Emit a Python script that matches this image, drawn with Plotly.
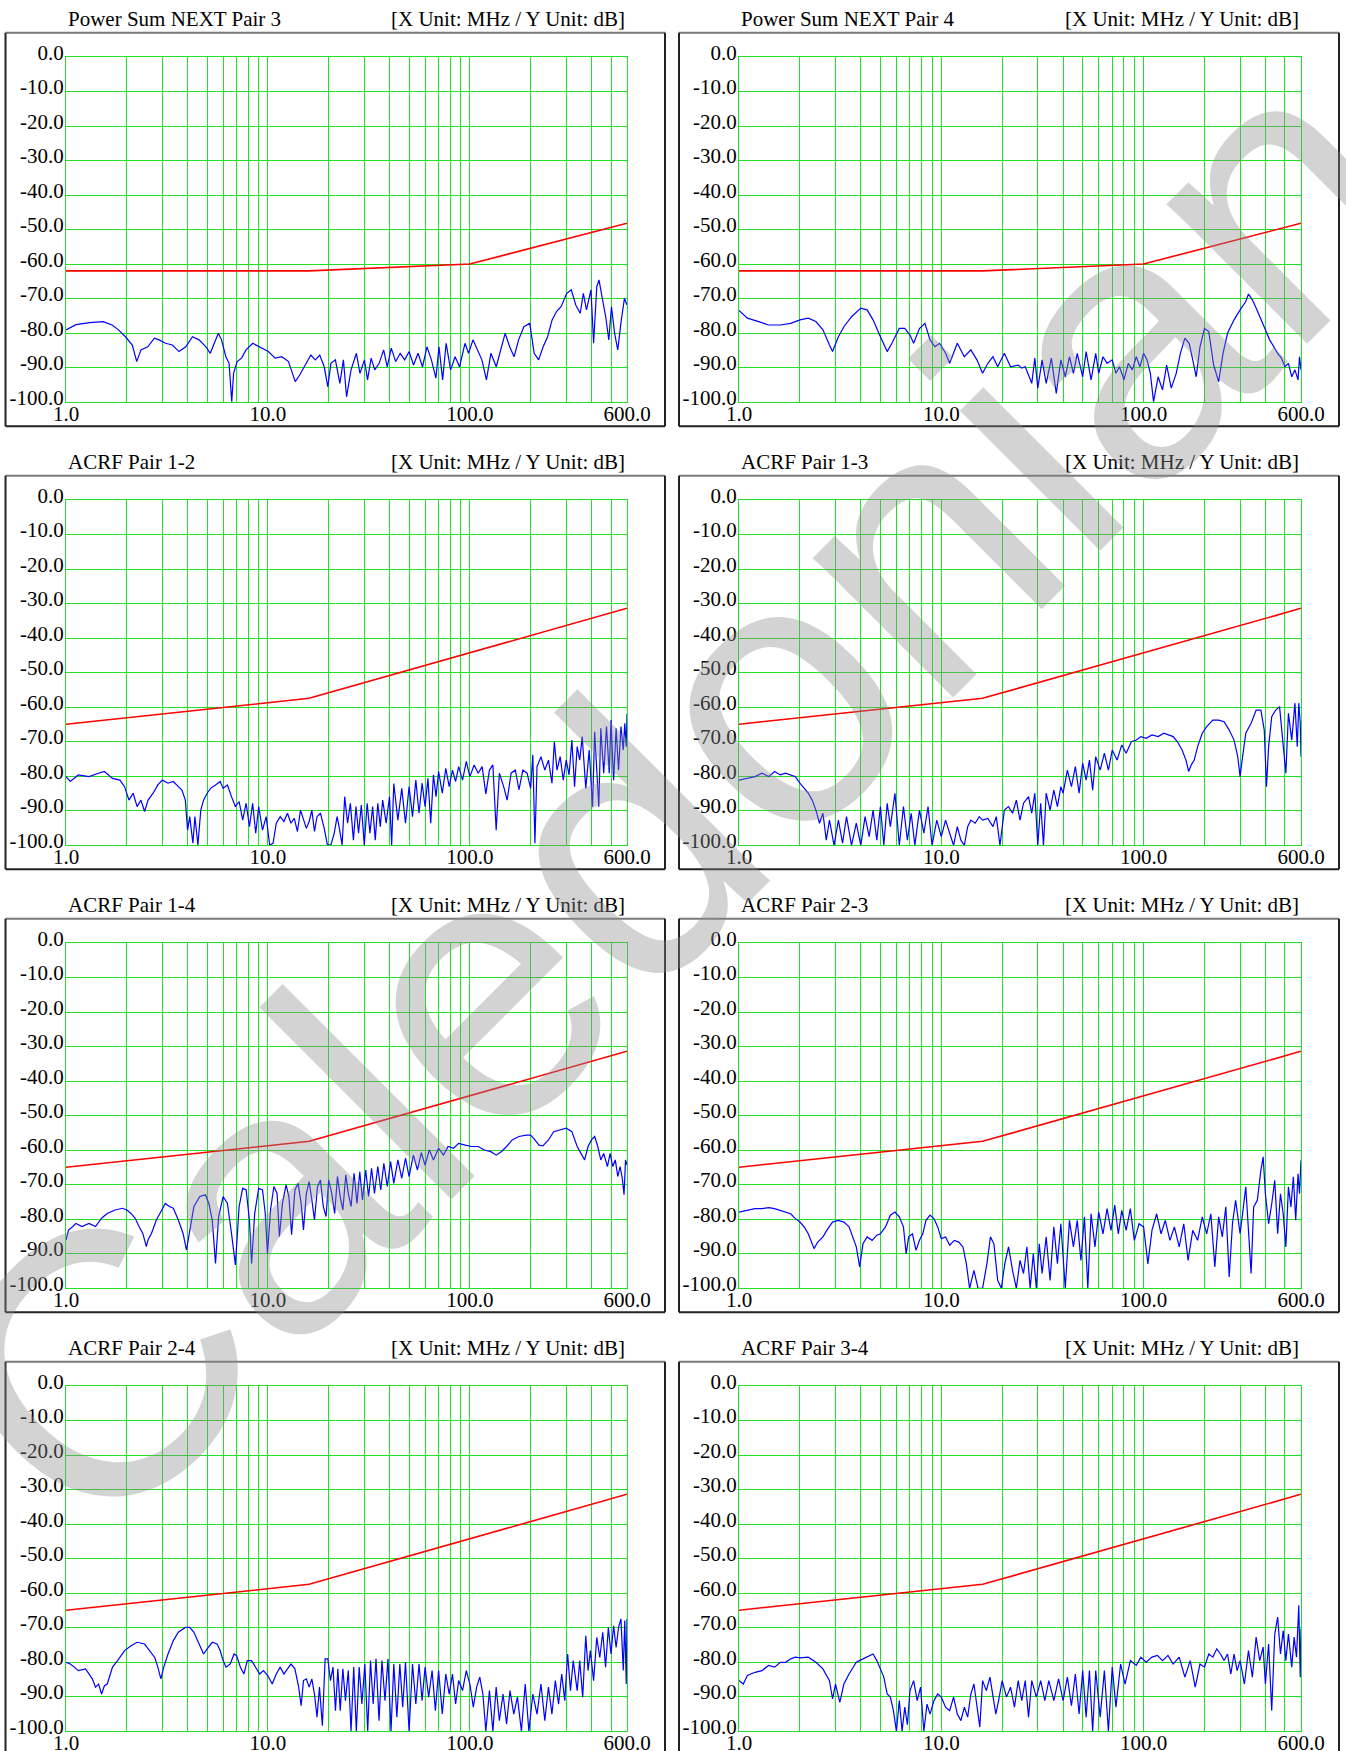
import math
import plotly.graph_objects as go

# ---------------- data ----------------
FREQ_TICKS = [1, 2, 3, 4, 5, 6, 7, 8, 9, 10, 20, 30, 40, 50, 60, 70, 80, 90,
              100, 200, 300, 400, 500, 600]
FREQ_LABELS = {1: "1.0", 10: "10.0", 100: "100.0", 600: "600.0"}
DB_TICKS = [0, -10, -20, -30, -40, -50, -60, -70, -80, -90, -100]
DB_LABELS = ["0.0", "-10.0", "-20.0", "-30.0", "-40.0", "-50.0", "-60.0",
             "-70.0", "-80.0", "-90.0", "-100.0"]
X_MIN, X_MAX = 1, 600
Y_MIN, Y_MAX = -100, 0

TITLES = ["Power Sum NEXT Pair 3", "Power Sum NEXT Pair 4",
          "ACRF Pair 1-2", "ACRF Pair 1-3",
          "ACRF Pair 1-4", "ACRF Pair 2-3",
          "ACRF Pair 2-4", "ACRF Pair 3-4"]
UNIT_TEXT = "[X Unit: MHz / Y Unit: dB]"
WATERMARK = "Caledonian"

LIMIT_PSNEXT = [(1, -61.9), (16, -61.9), (100, -59.9), (600, -48.1)]
LIMIT_ACRF = [(1, -64.9), (16, -57.4), (600, -31.3)]

PSNEXT_P3 = [(1.0, -79.0), (1.12, -77.5), (1.31, -76.9), (1.53, -76.6), (1.69, -77.6), (1.82, -79.0),
    (1.97, -81.0), (2.13, -83.4), (2.24, -88.2), (2.35, -84.8), (2.54, -83.9), (2.74, -81.4),
    (2.89, -81.9), (3.11, -82.9), (3.36, -83.4), (3.63, -85.3), (3.92, -83.9), (4.23, -81.0),
    (4.56, -81.9), (4.93, -83.9), (5.18, -85.8), (5.40, -82.9), (5.68, -80.0), (5.89, -81.9),
    (6.19, -86.8), (6.42, -88.7), (6.62, -99.8), (6.76, -91.6), (7.04, -88.2), (7.40, -87.2),
    (7.79, -84.8), (8.41, -82.9), (9.08, -83.9), (9.55, -84.8), (10.05, -85.3), (10.85, -87.2),
    (11.71, -86.8), (12.64, -88.2), (13.65, -94.0), (14.36, -92.1), (15.5, -88.7), (16.31, -86.3),
    (17.16, -87.7), (18.06, -86.3), (19.0, -89.7), (19.8, -95.5), (20.51, -88.7), (21.58, -87.7),
    (22.71, -94.5), (23.65, -87.7), (24.51, -98.4), (25.79, -90.6), (27.42, -85.8), (28.56, -91.6),
    (30.05, -87.7), (31.14, -93.5), (32.44, -87.2), (33.8, -90.6), (35.56, -88.7), (37.41, -84.8),
    (38.97, -89.7), (40.8, -84.3), (42.94, -88.2), (45.17, -85.8), (47.53, -87.7), (50.01, -85.3),
    (52.62, -89.2), (55.38, -85.8), (58.27, -89.7), (61.3, -83.9), (64.5, -87.7), (67.88, -93.0),
    (70.34, -83.9), (73.3, -93.5), (76.3, -82.9), (80.3, -90.6), (84.5, -86.8), (88.9, -89.7),
    (94.6, -82.9), (98.5, -85.8), (103.6, -81.9), (109.0, -84.8), (114.7, -87.7), (120.8, -93.5),
    (127.1, -85.8), (135.1, -89.7), (140.7, -85.8), (149.5, -80.0), (157.4, -83.9), (165.6, -86.8),
    (174.3, -81.9), (185.2, -78.1), (197.9, -77.1), (208.2, -85.8), (219.1, -87.7), (230.6, -83.9),
    (242.7, -81.0), (255.4, -76.1), (268.7, -73.7), (282.8, -72.3), (302, -68.4), (317.9, -67.4),
    (334.5, -71.8), (352, -74.2), (364.8, -68.4), (378, -73.2), (397.8, -67.4), (410.1, -82.9),
    (425, -66.5), (436, -64.5), (454.1, -70.3), (470.6, -75.2), (487.6, -81.9), (502.7, -72.3),
    (521, -80.0), (539.9, -84.8), (562.3, -76.1), (582.8, -69.9), (600, -71.8)]

PSNEXT_P4 = [(1.0, -73.4), (1.1, -75.6), (1.25, -76.6), (1.4, -77.6), (1.6, -77.6), (1.8, -77.1),
    (2.0, -76.1), (2.2, -75.6), (2.4, -76.6), (2.6, -79.0), (2.8, -83.4), (2.9, -85.3), (3.1, -81.0),
    (3.3, -78.1), (3.6, -75.2), (4.0, -72.7), (4.3, -73.2), (4.6, -76.1), (5.0, -81.0), (5.4, -85.3),
    (5.7, -82.9), (6.2, -78.6), (6.6, -78.6), (7.0, -80.5), (7.3, -82.9), (7.8, -78.6), (8.3, -77.1),
    (8.8, -81.9), (9.3, -83.9), (9.8, -82.9), (10.5, -85.8), (11, -88.7), (12, -82.9), (13, -86.8),
    (14, -84.8), (15, -87.7), (16, -91.6), (17, -88.7), (18, -86.8), (19, -89.7), (20.5, -85.8),
    (22, -89.7), (24, -89.2), (25, -90.1), (26, -89.7), (28, -94.5), (29, -87.2), (30, -95.9),
    (31.5, -87.7), (33, -94.5), (35, -87.2), (37, -97.4), (39, -87.7), (41, -92.6), (43, -86.8),
    (45, -91.6), (47, -85.8), (50, -92.6), (52, -85.3), (55, -93.5), (58, -85.8), (60, -91.6),
    (63, -86.8), (66, -88.7), (70, -87.7), (73, -91.6), (76, -89.7), (80, -93.5), (84, -88.7),
    (88, -90.6), (92, -86.8), (96, -89.7), (100, -85.8), (104, -87.7), (108, -91.6), (112, -99.8),
    (118, -92.6), (124, -96.4), (130, -89.2), (137, -95.9), (145, -91.6), (152, -85.8), (160, -81.4),
    (168, -82.9), (175, -87.7), (182, -92.6), (190, -83.9), (200, -78.6), (210, -79.5), (222, -89.2),
    (235, -94.0), (247, -85.8), (260, -80.0), (280, -76.1), (300, -73.2), (320, -70.8), (330, -68.6),
    (345, -70.3), (360, -72.7), (380, -75.7), (400, -79.0), (420, -81.9), (440, -83.9), (460, -85.8),
    (480, -87.2), (500, -89.7), (520, -88.7), (540, -92.6), (560, -90.6), (580, -93.5), (590, -86.8),
    (600, -90.6)]

ACRF_12 = [(1.0, -80.1), (1.05, -81.5), (1.15, -79.6), (1.3, -80.1), (1.45, -79.1), (1.55, -78.6),
    (1.7, -80.6), (1.85, -81.1), (1.95, -83.0), (2.05, -86.9), (2.15, -84.9), (2.25, -88.8),
    (2.35, -86.9), (2.45, -90.2), (2.55, -86.9), (2.7, -84.9), (2.85, -82.5), (3.0, -81.1),
    (3.2, -82.0), (3.4, -81.5), (3.6, -83.0), (3.75, -84.0), (3.9, -86.9), (4.0, -95.6), (4.1, -91.7),
    (4.25, -99.4), (4.35, -91.7), (4.5, -99.9), (4.65, -89.8), (4.8, -86.9), (5.0, -84.9), (5.2, -83.5),
    (5.5, -82.5), (5.8, -81.5), (6.0, -83.5), (6.3, -82.5), (6.6, -85.9), (6.9, -88.8), (7.2, -87.3),
    (7.5, -92.7), (7.8, -87.8), (8.1, -94.6), (8.4, -87.8), (8.7, -96.5), (9.0, -88.8), (9.4, -95.6),
    (9.8, -91.7), (10.2, -99.9), (10.6, -99.4), (11, -93.6), (11.5, -91.7), (12, -93.1), (12.5, -90.7),
    (13, -93.6), (13.5, -92.2), (14, -96.0), (14.5, -89.8), (15, -92.7), (15.5, -95.1), (16, -93.1),
    (16.5, -89.8), (17, -96.0), (17.5, -91.7), (18.2, -90.7), (19, -95.1), (19.7, -99.9), (20.5, -99.9),
    (21.3, -96.5), (22, -91.7), (22.5, -94.6), (23.3, -99.9), (24, -85.9), (24.8, -93.6), (25.6, -87.8),
    (26.5, -98.5), (27.3, -88.8), (28.1, -96.5), (29, -88.3), (30, -99.9), (31, -87.8), (32, -96.5),
    (33, -88.8), (34, -98.5), (35, -87.8), (36, -94.6), (37, -86.9), (38.5, -93.6), (40, -85.9),
    (41, -99.9), (42, -82.1), (44, -92.7), (46, -83.5), (48, -93.6), (50, -83.0), (52, -91.7),
    (54, -81.1), (56, -90.7), (58, -82.0), (60, -88.8), (62, -80.6), (64, -93.6), (66, -79.6),
    (68, -85.9), (70, -78.6), (73, -84.9), (76, -77.7), (79, -83.0), (82, -78.2), (85, -81.5),
    (88, -77.2), (92, -81.1), (96, -75.7), (100, -80.1), (105, -76.7), (110, -79.1), (115, -77.2),
    (120, -85.1), (125, -78.2), (130, -76.7), (135, -95.6), (140, -79.1), (147, -83.0), (153, -86.9),
    (160, -79.1), (168, -78.2), (175, -83.9), (183, -78.2), (192, -79.1), (200, -83.5), (205, -73.8),
    (210, -99.4), (215, -77.2), (225, -74.3), (235, -78.2), (245, -75.3), (255, -82.0), (262, -70.0),
    (270, -78.2), (280, -74.3), (290, -81.1), (300, -75.3), (310, -79.6), (320, -69.5), (330, -83.0),
    (340, -71.4), (350, -75.3), (360, -68.5), (375, -83.5), (390, -72.4), (405, -88.8), (415, -67.1),
    (425, -78.2), (435, -88.8), (445, -66.1), (460, -79.1), (475, -65.6), (490, -79.1), (500, -63.7),
    (515, -81.1), (530, -66.1), (545, -78.2), (560, -65.6), (575, -72.4), (585, -64.6), (595, -71.4),
    (600, -61.9)]

ACRF_13 = [(1.0, -81.1), (1.1, -80.6), (1.2, -80.1), (1.3, -79.1), (1.4, -80.1), (1.5, -78.6),
    (1.6, -79.6), (1.7, -79.1), (1.8, -79.6), (1.9, -80.1), (2.0, -82.0), (2.1, -83.5), (2.2, -84.9),
    (2.3, -86.9), (2.4, -89.8), (2.5, -93.6), (2.6, -90.7), (2.7, -98.5), (2.8, -92.7), (2.95, -100),
    (3.1, -92.7), (3.25, -99.4), (3.4, -91.7), (3.6, -100), (3.8, -93.6), (4.0, -100), (4.2, -91.7),
    (4.4, -97.5), (4.6, -89.8), (4.8, -98.5), (5.0, -88.8), (5.2, -100), (5.4, -87.8), (5.6, -94.6),
    (5.9, -84.9), (6.2, -100), (6.5, -88.8), (6.8, -98.5), (7.1, -90.7), (7.4, -100), (7.8, -89.8),
    (8.2, -96.5), (8.6, -88.8), (9.0, -100), (9.5, -92.7), (10, -97.5), (10.5, -92.7), (11, -96.5),
    (11.5, -100), (12, -94.6), (12.5, -98.5), (13, -100), (13.5, -94.6), (14, -92.7), (14.7, -93.6),
    (15.4, -91.7), (16, -92.7), (17, -92.2), (18, -94.6), (18.7, -91.7), (19.5, -100), (20.5, -89.8),
    (21.5, -88.8), (22.5, -90.7), (23.5, -86.9), (24.5, -92.7), (25.5, -87.8), (27, -85.9),
    (28, -90.7), (29, -84.9), (30, -100), (31, -87.8), (32, -100), (33, -84.9), (34.5, -89.8),
    (36, -84.0), (37.5, -88.8), (39, -83.0), (40, -84.9), (42, -78.2), (44, -83.0), (46, -77.2),
    (48, -84.9), (50, -76.2), (52, -81.1), (54, -75.3), (56, -84.0), (58, -74.3), (61, -78.2),
    (64, -73.3), (67, -78.2), (70, -72.4), (74, -75.3), (78, -70.9), (82, -73.3), (87, -70.0),
    (92, -69.5), (97, -68.5), (103, -69.0), (110, -68.0), (118, -68.5), (126, -67.5), (133, -68.0),
    (140, -68.5), (147, -70.0), (155, -72.4), (162, -75.3), (167, -78.6), (172, -76.7), (178, -75.3),
    (185, -71.4), (195, -67.5), (205, -65.6), (220, -63.7), (235, -63.7), (250, -64.2), (265, -66.6),
    (280, -69.5), (292, -74.3), (300, -80.1), (307, -75.3), (320, -67.5), (340, -64.6), (360, -60.8),
    (380, -60.8), (395, -66.6), (405, -83.0), (415, -71.4), (430, -62.7), (450, -60.8), (470, -59.8),
    (490, -70.4), (505, -79.1), (520, -61.7), (540, -69.5), (560, -58.8), (575, -71.4), (585, -58.8),
    (595, -64.6), (600, -74.3)]

ACRF_14 = [(1.0, -86.0), (1.03, -83.1), (1.08, -82.1), (1.12, -81.2), (1.2, -82.1), (1.3, -81.2),
    (1.4, -82.1), (1.5, -79.7), (1.6, -78.3), (1.75, -77.3), (1.9, -76.8), (2.0, -77.3), (2.1, -78.3),
    (2.2, -79.7), (2.3, -82.1), (2.4, -84.1), (2.5, -87.9), (2.55, -85.9), (2.65, -84.1), (2.8, -80.2),
    (2.95, -77.8), (3.1, -75.4), (3.25, -76.3), (3.4, -76.8), (3.6, -80.2), (3.8, -84.1), (3.95, -88.9),
    (4.1, -83.1), (4.3, -76.3), (4.6, -73.4), (4.9, -72.9), (5.1, -75.4), (5.3, -80.2), (5.5, -92.8),
    (5.7, -79.2), (6.0, -73.4), (6.3, -75.4), (6.6, -84.1), (6.9, -93.2), (7.2, -76.3), (7.5, -71.0),
    (7.8, -71.5), (8.1, -80.2), (8.3, -92.8), (8.6, -78.3), (9.0, -71.0), (9.4, -71.5), (9.7, -78.3),
    (9.95, -89.9), (10.3, -77.3), (10.7, -70.5), (11.1, -72.5), (11.4, -85.0), (11.8, -75.4),
    (12.3, -70.0), (12.7, -73.4), (13.1, -84.5), (13.6, -71.5), (14.1, -69.6), (14.6, -75.4),
    (15.0, -83.1), (15.5, -72.5), (16.0, -69.1), (16.5, -74.4), (17.0, -80.2), (17.6, -70.5),
    (18.2, -68.6), (18.8, -76.3), (19.4, -79.2), (20, -68.6), (20.7, -72.5), (21.4, -78.3),
    (22.1, -67.6), (22.8, -73.4), (23.5, -77.3), (24.3, -67.1), (25, -72.5), (25.8, -76.3),
    (26.7, -66.7), (27.6, -75.4), (28.5, -66.2), (29.4, -74.4), (30.5, -65.7), (31.5, -73.4),
    (32.6, -65.2), (33.7, -72.5), (35, -64.7), (36.2, -71.5), (37.5, -63.8), (39, -70.5), (40.5, -63.3),
    (42, -69.6), (44, -62.8), (46, -68.1), (48, -62.3), (50, -67.6), (52.5, -61.4), (55, -65.7),
    (57.5, -60.7), (60, -64.3), (63, -59.9), (66, -62.8), (70, -59.4), (74, -61.4), (78, -58.9),
    (83, -59.4), (88, -58.0), (95, -58.5), (102, -58.9), (110, -58.9), (118, -59.9), (127, -60.4),
    (135, -61.4), (143, -60.4), (152, -58.9), (162, -57.0), (175, -56.0), (190, -55.6), (200, -55.6),
    (210, -57.0), (220, -58.5), (230, -58.7), (245, -57.0), (260, -54.6), (280, -54.1), (300, -53.6),
    (320, -54.6), (340, -58.9), (355, -60.9), (370, -62.8), (385, -58.9), (400, -57.0), (415, -56.0),
    (430, -58.9), (445, -62.8), (460, -60.9), (480, -64.7), (495, -60.9), (510, -64.7), (525, -62.8),
    (540, -67.6), (555, -64.7), (570, -68.6), (580, -72.9), (590, -62.8), (600, -64.3)]

ACRF_23 = [(1.0, -77.9), (1.1, -77.4), (1.2, -76.9), (1.3, -76.9), (1.4, -76.6), (1.5, -76.9),
    (1.6, -77.4), (1.7, -77.9), (1.8, -78.4), (1.9, -79.8), (2.0, -80.8), (2.1, -82.2), (2.2, -84.2),
    (2.3, -87.1), (2.35, -88.5), (2.45, -86.6), (2.6, -85.1), (2.75, -82.7), (2.9, -80.8), (3.1, -80.3),
    (3.3, -80.8), (3.5, -82.2), (3.65, -85.1), (3.8, -88.0), (3.95, -93.8), (4.1, -87.1), (4.3, -85.1),
    (4.55, -86.1), (4.8, -84.6), (5.0, -84.2), (5.3, -82.2), (5.6, -78.8), (5.9, -77.9), (6.2, -79.3),
    (6.5, -82.2), (6.7, -90.0), (6.9, -85.1), (7.2, -84.2), (7.5, -89.0), (7.8, -86.1), (8.1, -84.2),
    (8.4, -80.3), (8.8, -78.8), (9.2, -79.8), (9.6, -82.2), (10, -85.6), (10.5, -85.1), (11, -87.5),
    (11.6, -86.1), (12.2, -86.6), (12.8, -88.0), (13.3, -92.9), (13.8, -100), (14.5, -94.8),
    (15.2, -100), (16, -100), (16.8, -92.9), (17.5, -85.1), (18.2, -87.1), (19, -97.7), (19.8, -100),
    (20.6, -92.9), (21.5, -88.0), (22.5, -94.8), (23.5, -100), (24.5, -91.9), (25.5, -95.7),
    (26.5, -88.0), (27.5, -100), (28.5, -90.0), (29.5, -100), (30.5, -87.1), (31.5, -95.7),
    (33, -85.1), (34.5, -97.7), (36, -82.2), (37.5, -92.9), (39, -81.3), (41, -100), (43, -80.3),
    (45, -88.0), (47, -80.3), (49, -91.9), (51, -79.3), (53, -100), (55, -78.4), (57.5, -88.0),
    (60, -77.9), (63, -84.2), (66, -76.9), (69, -83.2), (72, -75.9), (75, -84.2), (78, -77.4),
    (82, -83.2), (86, -76.9), (90, -86.1), (95, -81.3), (100, -82.2), (105, -92.9), (110, -83.2),
    (116, -78.4), (122, -84.2), (128, -80.3), (135, -86.1), (142, -82.2), (150, -88.0), (158, -81.3),
    (166, -91.9), (175, -83.2), (185, -86.1), (195, -79.3), (205, -84.2), (215, -78.4), (225, -93.8),
    (235, -79.3), (245, -85.1), (255, -76.4), (265, -96.7), (275, -81.3), (285, -74.5), (300, -84.2),
    (310, -77.4), (320, -70.6), (330, -83.2), (340, -95.7), (350, -76.4), (365, -74.5), (380, -65.8),
    (390, -61.9), (400, -72.6), (415, -81.3), (430, -75.5), (445, -68.7), (460, -84.2), (475, -72.6),
    (490, -78.4), (505, -88.0), (520, -70.6), (535, -76.4), (550, -67.7), (565, -80.3), (580, -66.8),
    (590, -72.6), (600, -62.9)]

ACRF_24 = [(1.0, -80.0), (1.05, -80.5), (1.1, -81.4), (1.15, -82.4), (1.25, -81.9), (1.3, -83.4),
    (1.35, -84.8), (1.4, -87.2), (1.45, -86.3), (1.5, -89.2), (1.55, -86.8), (1.6, -86.3), (1.7, -81.4),
    (1.8, -79.5), (1.95, -76.6), (2.1, -75.2), (2.25, -74.2), (2.45, -74.7), (2.6, -76.6), (2.75, -78.6),
    (2.85, -81.4), (2.95, -84.8), (3.05, -81.4), (3.2, -77.6), (3.4, -73.7), (3.6, -71.3), (3.9, -69.9),
    (4.1, -69.9), (4.3, -71.3), (4.6, -75.2), (4.8, -77.6), (5.0, -76.1), (5.3, -74.2), (5.6, -74.7),
    (5.8, -76.6), (6.0, -79.5), (6.2, -81.4), (6.5, -80.5), (6.8, -77.6), (7.0, -78.1), (7.3, -81.4),
    (7.6, -83.4), (7.9, -79.5), (8.3, -79.5), (8.7, -81.4), (9.1, -83.4), (9.5, -82.4), (10, -83.9),
    (10.5, -86.3), (11, -83.4), (11.5, -81.4), (12, -83.4), (12.5, -81.9), (13, -80.5), (13.6, -81.9),
    (14.2, -87.2), (14.6, -92.6), (15.0, -85.3), (15.5, -84.8), (16, -87.2), (16.5, -84.8), (17, -89.2),
    (17.5, -95.9), (18, -87.2), (18.6, -98.4), (19.2, -79.0), (19.8, -79.0), (20.4, -85.3), (21, -81.4),
    (21.6, -94.0), (22.2, -81.9), (22.8, -94.0), (23.5, -81.9), (24.2, -91.1), (25, -82.4),
    (25.8, -100), (26.6, -81.4), (27.4, -100), (28.3, -81.4), (29.2, -92.1), (30.2, -80.5),
    (31.2, -100), (32.2, -79.5), (33.2, -92.1), (34.3, -79.0), (35.5, -96.9), (36.7, -79.5),
    (38, -91.1), (39.3, -79.0), (40.7, -100), (42, -80.5), (43.5, -95.9), (45, -80.5), (46.5, -93.0),
    (48, -80.0), (50, -100), (52, -80.5), (54, -92.1), (56, -80.5), (58, -91.1), (60, -81.4),
    (62.5, -90.1), (65, -82.4), (67.5, -94.0), (70, -82.4), (73, -95.0), (76, -83.4), (79, -89.2),
    (82, -83.4), (85, -92.1), (88, -85.3), (92, -88.2), (96, -82.4), (100, -86.3), (104, -93.0),
    (108, -87.2), (112, -84.3), (116, -89.2), (120, -100), (125, -88.2), (130, -100), (135, -87.2),
    (140, -96.9), (146, -89.2), (152, -97.9), (158, -88.2), (165, -95.0), (172, -90.1), (180, -100),
    (188, -86.3), (196, -100), (205, -89.2), (215, -95.0), (225, -86.3), (235, -96.9), (245, -87.2),
    (255, -95.0), (265, -85.3), (275, -92.1), (285, -83.4), (295, -91.1), (305, -77.6), (315, -88.2),
    (325, -79.5), (340, -88.2), (350, -79.5), (362, -90.1), (375, -72.3), (385, -82.4), (395, -76.6),
    (410, -85.3), (425, -72.8), (440, -78.6), (455, -71.3), (470, -81.4), (485, -69.9), (500, -77.6),
    (515, -69.4), (530, -75.7), (545, -69.9), (560, -67.4), (575, -82.4), (585, -67.9), (595, -86.3),
    (600, -67.4)]

ACRF_34 = [(1.0, -85.3), (1.05, -86.3), (1.1, -83.8), (1.2, -82.9), (1.3, -82.4), (1.4, -80.9),
    (1.5, -81.4), (1.6, -80.0), (1.7, -80.0), (1.8, -79.0), (1.9, -78.5), (2.0, -78.7), (2.2, -78.5),
    (2.4, -80.0), (2.6, -81.9), (2.8, -85.3), (2.9, -90.6), (3.0, -86.3), (3.15, -91.6), (3.3, -86.3),
    (3.5, -83.4), (3.8, -80.0), (4.1, -79.0), (4.4, -78.0), (4.6, -77.6), (4.8, -79.5), (5.0, -81.9),
    (5.2, -84.3), (5.4, -89.2), (5.6, -90.1), (5.8, -94.0), (6.0, -100), (6.2, -91.1), (6.4, -100),
    (6.6, -93.0), (6.8, -98.1), (7.0, -88.2), (7.3, -85.3), (7.6, -91.1), (7.9, -87.2), (8.2, -100),
    (8.5, -92.1), (8.8, -95.0), (9.2, -91.1), (9.6, -89.2), (10, -90.1), (10.5, -93.0), (11, -94.0),
    (11.5, -90.1), (12, -95.0), (12.5, -96.9), (13, -93.0), (13.5, -95.9), (14, -89.2), (14.5, -86.3),
    (15, -92.1), (15.5, -98.8), (16, -85.3), (16.7, -88.2), (17.4, -84.3), (18, -89.2), (18.6, -95.0),
    (19.2, -91.1), (20, -85.3), (21, -90.1), (22, -87.2), (23, -93.0), (24, -85.3), (25, -91.1),
    (26, -85.3), (27, -95.9), (28, -85.3), (29.5, -90.1), (31, -85.3), (32.5, -91.1), (34, -85.3),
    (36, -91.1), (38, -84.8), (40, -91.1), (42, -84.3), (44, -92.6), (46, -83.4), (48, -95.0),
    (50, -82.4), (52, -95.9), (54, -82.4), (56, -100), (58, -82.4), (61, -95.9), (64, -82.4),
    (67, -100), (70, -81.4), (73, -93.0), (77, -80.5), (81, -86.3), (86, -79.5), (92, -80.9),
    (97, -78.5), (103, -80.0), (110, -78.5), (117, -78.0), (124, -79.5), (132, -78.0), (140, -80.5),
    (150, -78.5), (160, -84.3), (170, -79.5), (180, -87.2), (190, -80.5), (200, -81.4), (210, -77.6),
    (220, -78.5), (230, -76.1), (240, -77.6), (250, -79.5), (260, -77.6), (270, -83.4), (280, -77.6),
    (290, -82.4), (300, -79.5), (315, -86.3), (330, -76.6), (345, -84.3), (360, -72.7), (375, -79.5),
    (390, -75.6), (400, -86.3), (415, -74.7), (430, -94.0), (445, -71.8), (460, -66.9), (475, -77.6),
    (490, -70.8), (505, -79.5), (520, -71.8), (540, -81.4), (555, -72.7), (570, -78.5), (585, -63.5),
    (595, -84.3), (600, -70.3)]

LIMITS = [LIMIT_PSNEXT, LIMIT_PSNEXT, LIMIT_ACRF, LIMIT_ACRF,
          LIMIT_ACRF, LIMIT_ACRF, LIMIT_ACRF, LIMIT_ACRF]
TRACES = [PSNEXT_P3, PSNEXT_P4, ACRF_12, ACRF_13, ACRF_14, ACRF_23, ACRF_24, ACRF_34]

# ---------------- layout geometry (pixels) ----------------
W, H = 1346, 1751
COL_PLOT_X = [(66, 627), (739, 1301)]
COL_FRAME_X = [(5.5, 665), (679, 1339)]
ROW0_TOP, ROW_PITCH, PLOT_H = 57.3, 443, 345
FRAME_PAD_TOP, FRAME_PAD_BOT = 24.5, 24
TITLE_OFFSET = 38

GRID = "#22e022"
FONT = "Liberation Serif"
FS = 21


def px(x):
    return x / W


def py(y):
    return 1 - y / H


fig = go.Figure()
shapes = []
annotations = []

for i in range(8):
    r, c = divmod(i, 2)
    top = ROW0_TOP + r * ROW_PITCH
    bot = top + PLOT_H
    x0, x1 = COL_PLOT_X[c]
    fx0, fx1 = COL_FRAME_X[c]
    ax = "" if i == 0 else str(i + 1)

    lx, ly = zip(*LIMITS[i])
    tx, ty = zip(*TRACES[i])
    fig.add_trace(go.Scatter(x=list(tx), y=list(ty), mode="lines",
                             line=dict(color="#0000ff", width=1.2),
                             xaxis="x" + ax, yaxis="y" + ax, hoverinfo="skip"))
    fig.add_trace(go.Scatter(x=list(lx), y=list(ly), mode="lines",
                             line=dict(color="#ff0000", width=1.6),
                             xaxis="x" + ax, yaxis="y" + ax, hoverinfo="skip"))

    fig.layout["xaxis" + ax] = dict(
        type="log", range=[math.log10(X_MIN), math.log10(X_MAX)],
        domain=[px(x0), px(x1)], anchor="y" + ax, automargin=False,
        tickmode="array", tickvals=FREQ_TICKS,
        ticktext=[FREQ_LABELS.get(v, "") for v in FREQ_TICKS],
        showgrid=True, gridcolor=GRID, gridwidth=1,
        showline=True, linecolor=GRID, linewidth=1, mirror=True,
        zeroline=False, ticks="", ticklabelstandoff=-8,
        tickfont=dict(family=FONT, size=FS, color="black"),
        fixedrange=True)
    fig.layout["yaxis" + ax] = dict(
        range=[Y_MIN, Y_MAX], domain=[py(bot), py(top)], anchor="x" + ax,
        automargin=False,
        tickmode="array", tickvals=DB_TICKS, ticktext=DB_LABELS,
        showgrid=True, gridcolor=GRID, gridwidth=1.3,
        showline=True, linecolor=GRID, linewidth=1, mirror=True,
        zeroline=False, ticks="", ticklabelshift=-5, ticklabelstandoff=-3,
        tickfont=dict(family=FONT, size=FS, color="black"), fixedrange=True)

    # frame around the panel
    ftop = top - FRAME_PAD_TOP
    fbot = bot + FRAME_PAD_BOT
    shapes.append(dict(type="line", xref="paper", yref="paper",
                       x0=px(fx0), x1=px(fx1), y0=py(ftop), y1=py(ftop),
                       line=dict(color="#7a7a7a", width=2)))
    for (a0, b0, a1, b1) in [(fx0, ftop, fx0, fbot), (fx1, ftop, fx1, fbot), (fx0, fbot, fx1, fbot)]:
        shapes.append(dict(type="line", xref="paper", yref="paper",
                           x0=px(a0), x1=px(a1), y0=py(b0), y1=py(b1),
                           line=dict(color="#222222", width=2)))

    ty_title = py(top - TITLE_OFFSET)
    annotations.append(dict(text=TITLES[i], xref="paper", yref="paper",
                            x=px(x0), y=ty_title, xanchor="left", yanchor="middle",
                            showarrow=False, font=dict(family=FONT, size=FS, color="black")))
    annotations.append(dict(text=UNIT_TEXT, xref="paper", yref="paper",
                            x=px(x1), y=ty_title, xanchor="right", yanchor="middle",
                            showarrow=False, font=dict(family=FONT, size=FS, color="black")))

# diagonal grey watermark
annotations.append(dict(text=WATERMARK, xref="paper", yref="paper",
                        x=px(673), y=py(794), xanchor="center", yanchor="middle",
                        textangle=-45, showarrow=False,
                        font=dict(family="Liberation Sans", size=375,
                                  color="rgba(140,140,140,0.38)")))

fig.update_layout(width=W, height=H, margin=dict(l=0, r=0, t=0, b=0, autoexpand=False),
                  paper_bgcolor="white", plot_bgcolor="white",
                  showlegend=False, shapes=shapes, annotations=annotations)

fig.write_html("out.html",
               config={"displayModeBar": False, "responsive": False},
               post_script="document.body.style.margin='0px';"
                           "document.body.style.padding='0px';"
                           "document.documentElement.style.overflow='hidden';"
                           "document.body.style.overflow='hidden';")
